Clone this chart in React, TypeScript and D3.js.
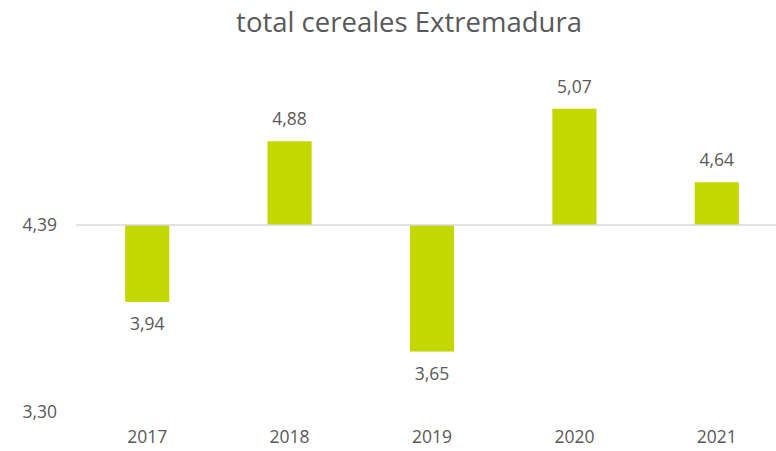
import React, { useEffect, useRef } from 'react';
import * as d3 from 'd3';

const years = ['2017', '2018', '2019', '2020', '2021'];
const values = [3.94, 4.88, 3.65, 5.07, 4.64];
const baseValue = 4.39;
const axisTicks = [3.3, 4.39];
const title = 'total cereales Extremadura';

const W = 776;
const H = 451;
const fmt = (v: number) => v.toFixed(2).replace('.', ',');

const App = () => {
  const svgRef = useRef<SVGSVGElement>(null);

  useEffect(() => {
    const svg = d3.select(svgRef.current);
    svg.selectAll('*').remove();
    const font = '"Open Sans", sans-serif';
    const textColor = '#595959';
    const labelSize = 17.5;

    const x = d3.scaleBand().domain(years).range([76, 788]).paddingInner(0.69).paddingOuter(0.345);
    const y = d3.scaleLinear().domain([3.3, 5.3]).range([411.4, 69.4]);

    svg.append('rect').attr('width', W).attr('height', H).attr('fill', '#ffffff');

    // title
    svg.append('text')
      .attr('x', 409).attr('y', 22)
      .attr('dy', '0.35em')
      .attr('text-anchor', 'middle')
      .attr('font-family', font).attr('font-size', 27.5)
      .attr('fill', textColor)
      .text(title);

    // bars from the base value
    svg.selectAll('.bar')
      .data(values)
      .enter()
      .append('rect')
      .attr('class', 'bar')
      .attr('x', (d, i) => x(years[i])!)
      .attr('width', x.bandwidth())
      .attr('y', d => y(Math.max(d, baseValue)))
      .attr('height', d => Math.abs(y(d) - y(baseValue)))
      .attr('fill', '#c3d800');

    // base line
    svg.append('line')
      .attr('x1', 76).attr('x2', 788)
      .attr('y1', y(baseValue)).attr('y2', y(baseValue))
      .attr('stroke', '#d9d9d9').attr('stroke-width', 1.5);

    // value labels
    svg.selectAll('.lbl')
      .data(values)
      .enter()
      .append('text')
      .attr('class', 'lbl')
      .attr('x', (d, i) => x(years[i])! + x.bandwidth() / 2)
      .attr('y', d => d >= baseValue ? y(d) - 22 : y(d) + 22)
      .attr('dy', '0.35em')
      .attr('text-anchor', 'middle')
      .attr('font-family', font).attr('font-size', labelSize)
      .attr('fill', textColor)
      .text(d => fmt(d));

    // y tick labels
    svg.selectAll('.ytick')
      .data(axisTicks)
      .enter()
      .append('text')
      .attr('class', 'ytick')
      .attr('x', 57)
      .attr('y', d => y(d))
      .attr('dy', '0.35em')
      .attr('text-anchor', 'end')
      .attr('font-family', font).attr('font-size', labelSize)
      .attr('fill', textColor)
      .text(d => fmt(d));

    // category labels
    svg.selectAll('.xtick')
      .data(years)
      .enter()
      .append('text')
      .attr('class', 'xtick')
      .attr('x', d => x(d)! + x.bandwidth() / 2)
      .attr('y', 437)
      .attr('dy', '0.35em')
      .attr('text-anchor', 'middle')
      .attr('font-family', font).attr('font-size', labelSize)
      .attr('fill', textColor)
      .text(d => d);
  }, []);

  return (
    <svg ref={svgRef} width={W} height={H} style={{ position: 'absolute', left: 0, top: 0 }}></svg>
  );
};

export default App;
